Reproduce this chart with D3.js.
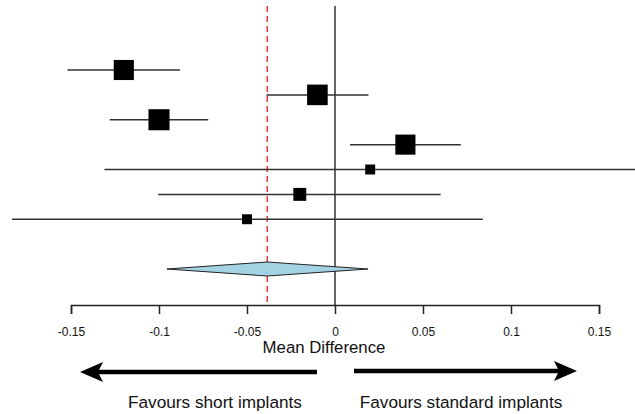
<!DOCTYPE html>
<html>
<head>
<meta charset="utf-8">
<script src="https://cdn.jsdelivr.net/npm/d3@7"></script>
<style>
  body { margin: 0; background: #fff; }
  svg { display: block; font-family: "Liberation Sans", Arial, Helvetica, sans-serif; }
</style>
</head>
<body>
<script>
// study estimates (mean difference, 95% CI, weight %)
var means  = [-0.12, -0.01, -0.10, 0.04, 0.02, -0.02, -0.05]
var lower  = [-0.152, -0.039, -0.128, 0.0085, -0.131, -0.1005, -0.1835]
var upper  = [-0.088, 0.019, -0.072, 0.0715, 0.19, 0.060, 0.084]
var weights = [20.5, 21.5, 22.5, 20.5, 5, 8.5, 5]

// pooled estimate
var pooled = [-0.0385, -0.0955, 0.0188]

var tickValues = [-0.15, -0.1, -0.05, 0, 0.05, 0.1, 0.15]
var tickLabels = ["-0.15", "-0.1", "-0.05", "0", "0.05", "0.1", "0.15"]

var width = 635, height = 414
var axisY = 305

var svg = d3.select("body").append("svg").attr("width", width).attr("height", height)

var x = d3.scaleLinear().domain([-0.15, 0.15]).range([71, 599])
var y = d3.scaleLinear().domain([0, 8]).range([70, 269])
var side = d3.scaleSqrt().domain([0, 25]).range([0, 22.2])

// reference lines
svg.append("line")
  .attr("x1", x(0)).attr("x2", x(0))
  .attr("y1", 6).attr("y2", axisY)
  .attr("stroke", "#111").attr("stroke-width", 1.3)

svg.append("line")
  .attr("x1", x(pooled[0])).attr("x2", x(pooled[0]))
  .attr("y1", 6).attr("y2", axisY)
  .attr("stroke", "#ee3b3b").attr("stroke-width", 1.5)
  .attr("stroke-dasharray", "6,4")

var rows = means.map(function(m, i) {
  return {m: m, lo: lower[i], hi: upper[i], w: weights[i], i: i}
})

svg.selectAll(".ci").data(rows).enter().append("line")
  .attr("class", "ci")
  .attr("x1", d => x(d.lo)).attr("x2", d => x(d.hi))
  .attr("y1", d => y(d.i)).attr("y2", d => y(d.i))
  .attr("stroke", "#333").attr("stroke-width", 1.5)

svg.selectAll(".box").data(rows).enter().append("rect")
  .attr("class", "box")
  .attr("x", d => x(d.m) - side(d.w) / 2)
  .attr("y", d => y(d.i) - side(d.w) / 2)
  .attr("width", d => side(d.w))
  .attr("height", d => side(d.w))
  .attr("fill", "#000")

// pooled diamond
var dy = y(8)
svg.append("path")
  .attr("d", "M" + x(pooled[1]) + "," + dy +
    "L" + x(pooled[0]) + "," + (dy - 7) +
    "L" + x(pooled[2]) + "," + dy +
    "L" + x(pooled[0]) + "," + (dy + 7) + "Z")
  .attr("fill", "#a3d2e3").attr("stroke", "#222").attr("stroke-width", 1)

// axis
var axis = d3.axisBottom(x)
  .tickValues(tickValues)
  .tickFormat((d, i) => tickLabels[i])
  .tickSizeOuter(0)
  .tickSize(9)
  .tickPadding(13)

var g = svg.append("g").attr("transform", "translate(0," + axisY + ")").call(axis)
g.select(".domain").attr("stroke", "#222").attr("stroke-width", 1.5)
g.selectAll(".tick line").attr("stroke", "#222").attr("stroke-width", 1.5)
g.selectAll(".tick text").attr("font-size", 12).attr("fill", "#111")
  .attr("font-family", "Liberation Sans, Arial, sans-serif")

svg.append("text")
  .attr("x", 324).attr("y", 353)
  .attr("text-anchor", "middle")
  .attr("font-size", 16.8).attr("fill", "#111")
  .text("Mean Difference")

// direction arrows
function arrow(x1, x2, yy) {
  var dir = x2 > x1 ? 1 : -1
  var hl = 23, hw = 10, notch = 5
  var base = x2 - dir * hl
  svg.append("line")
    .attr("x1", x1).attr("x2", base + dir * notch).attr("y1", yy).attr("y2", yy)
    .attr("stroke", "#000").attr("stroke-width", 4.5)
  svg.append("path")
    .attr("d", "M" + x2 + "," + yy +
      "L" + base + "," + (yy - hw) +
      "L" + (base + dir * notch) + "," + yy +
      "L" + base + "," + (yy + hw) + "Z")
    .attr("fill", "#000")
}
arrow(317, 80, 372)
arrow(354, 577, 371)

svg.append("text")
  .attr("x", 215).attr("y", 408)
  .attr("text-anchor", "middle")
  .attr("font-size", 17.2).attr("fill", "#111")
  .text("Favours short implants")

svg.append("text")
  .attr("x", 461).attr("y", 408)
  .attr("text-anchor", "middle")
  .attr("font-size", 17.2).attr("fill", "#111")
  .text("Favours standard implants")
</script>
</body>
</html>
